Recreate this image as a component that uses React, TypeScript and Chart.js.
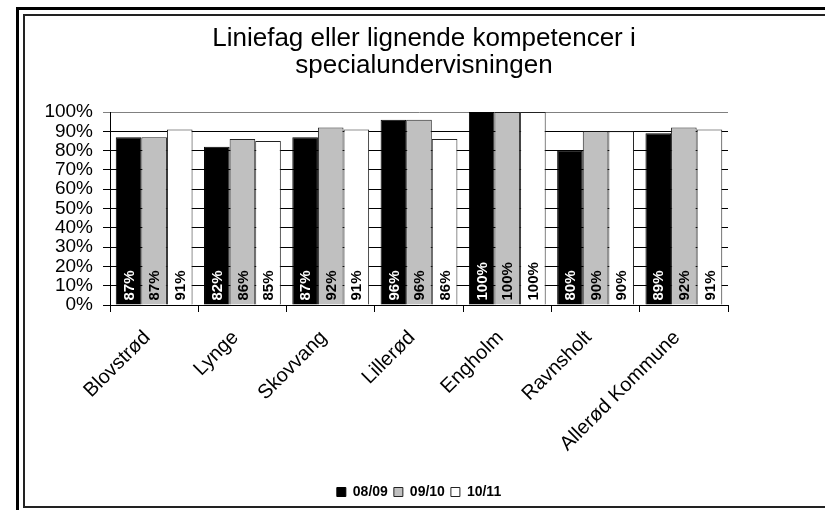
import { useEffect, useRef } from "react";
import { Chart, registerables } from "chart.js";

Chart.register(...registerables);

const categories = ["Blovstrød", "Lynge", "Skovvang", "Lillerød", "Engholm", "Ravnsholt", "Allerød Kommune"];
const seriesNames = ["08/09", "09/10", "10/11"];
const values0809 = [87, 82, 87, 96, 100, 80, 89];
const values0910 = [87, 86, 92, 96, 100, 90, 92];
const values1011 = [91, 85, 91, 86, 100, 90, 91];
const titleLines = ["Liniefag eller lignende kompetencer i", "specialundervisningen"];

const FONT = "'Liberation Sans', Arial, sans-serif";

const framePlugin = {
  id: "frame",
  beforeDraw(chart: any) {
    const { ctx, width, height } = chart;
    ctx.save();
    ctx.fillStyle = "#fff";
    ctx.fillRect(0, 0, width, height);
    ctx.fillStyle = "#000";
    ctx.fillRect(16, 7, width - 16, 3);
    ctx.fillRect(16, 7, 3, height - 7);
    ctx.fillStyle = "#222";
    ctx.fillRect(23, 14, width - 23, 2);
    ctx.fillRect(23, 14, 2, 494);
    ctx.fillRect(23, 506, width - 23, 2);
    ctx.restore();
  },
};

const barLabelPlugin = {
  id: "barLabels",
  afterDatasetsDraw(chart: any) {
    const { ctx } = chart;
    ctx.save();
    ctx.font = `bold 15px ${FONT}`;
    ctx.textAlign = "left";
    ctx.textBaseline = "middle";
    chart.data.datasets.forEach((ds: any, di: number) => {
      const meta = chart.getDatasetMeta(di);
      meta.data.forEach((el: any, i: number) => {
        ctx.save();
        ctx.translate(el.x, el.base - 4);
        ctx.rotate(-Math.PI / 2);
        ctx.fillStyle = di === 0 ? "#fff" : "#000";
        ctx.fillText(`${ds.data[i]}%`, 0, 1);
        ctx.restore();
      });
    });
    ctx.restore();
  },
};

export default function App() {
  const ref = useRef<HTMLCanvasElement | null>(null);
  useEffect(() => {
    if (!ref.current) return;
    const chart = new Chart(ref.current, {
      type: "bar",
      data: {
        labels: categories,
        datasets: [
          { label: seriesNames[0], data: values0809, backgroundColor: "#000", borderColor: "#000", borderWidth: 1 },
          { label: seriesNames[1], data: values0910, backgroundColor: "#c0c0c0", borderColor: "#222", borderWidth: 1 },
          { label: seriesNames[2], data: values1011, backgroundColor: "#fff", borderColor: "#222", borderWidth: 1 },
        ],
      },
      options: {
        responsive: false,
        animation: false,
        layout: { padding: { left: 30, right: 7, top: 0, bottom: 1 } },
        datasets: { bar: { categoryPercentage: 0.87, barPercentage: 1 } },
        plugins: {
          title: {
            display: true,
            text: titleLines,
            color: "#000",
            font: { family: FONT, size: 26, weight: "normal", lineHeight: 1.04 },
            padding: { top: 25, bottom: 33 },
          },
          legend: {
            position: "bottom",
            fullSize: false,
            labels: {
              color: "#000",
              boxWidth: 9,
              boxHeight: 9,
              padding: 6,
              font: { family: FONT, size: 14, weight: "bold" },
            },
          },
          tooltip: { enabled: false },
        },
        scales: {
          x: {
            afterFit(scale: any) {
              scale.height = 174;
            },
            grid: { offset: true, drawOnChartArea: false, drawTicks: true, tickLength: 7, color: "#000" },
            border: { display: true, color: "#000", width: 1 },
            ticks: {
              color: "#000",
              minRotation: 45,
              maxRotation: 45,
              padding: 14,
              labelOffset: -7,
              autoSkip: false,
              font: { family: FONT, size: 20 },
            },
          },
          y: {
            min: 0,
            max: 100,
            afterFit(scale: any) {
              scale.width = 80;
            },
            grid: {
              color: (c: any) => (c.tick && c.tick.value === 100 ? "#808080" : "#000"),
              tickLength: 7,
              drawTicks: true,
            },
            border: { display: true, color: "#000", width: 1 },
            ticks: {
              stepSize: 10,
              autoSkip: false,
              color: "#000",
              padding: 10,
              font: { family: FONT, size: 19, lineHeight: 1 },
              callback: (v: any) => `${v}%`,
            },
          },
          spacer: {
            type: "linear",
            position: "right",
            display: true,
            afterFit(scale: any) {
              scale.width = 90;
            },
            grid: { display: false, drawOnChartArea: false, drawTicks: false },
            border: { display: false },
            ticks: { display: false },
          },
        },
      },
      plugins: [framePlugin, barLabelPlugin],
    });
    return () => chart.destroy();
  }, []);
  return (
    <div style={{ position: "fixed", left: 0, top: 0, width: 825, height: 510 }}>
      <canvas ref={ref} width={825} height={510} style={{ display: "block" }} />
    </div>
  );
}
